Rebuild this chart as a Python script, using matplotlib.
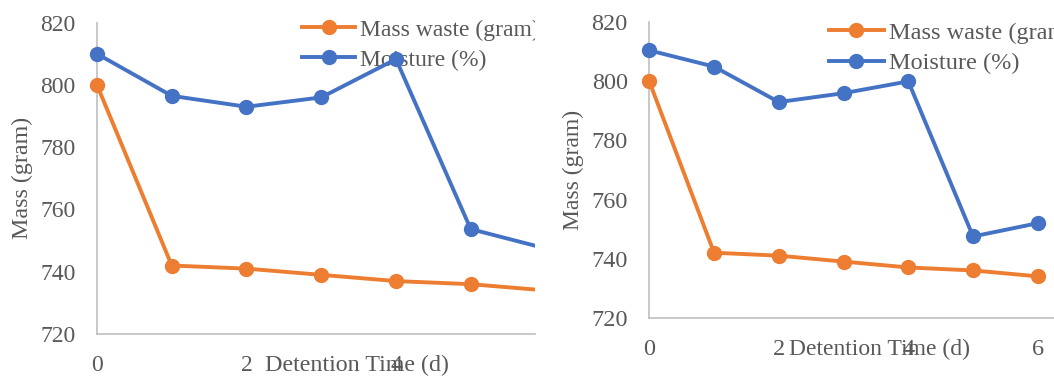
import matplotlib
matplotlib.use("Agg")
import matplotlib.pyplot as plt
from matplotlib.transforms import Bbox, TransformedBbox

plt.rcParams['font.family'] = ['Liberation Serif', 'DejaVu Serif']

days = [0, 1, 2, 3, 4, 5, 6]
mass_left = [800, 742, 741, 739, 737, 736, 734]
moist_left = [810, 796.5, 793, 796, 808.3, 753.7, 747.5]
mass_right = [800, 742, 741, 739, 737, 736, 734]
moist_right = [810.5, 805, 793, 796, 800, 747.5, 752]
yticks = [720, 740, 760, 780, 800, 820]

ORANGE = '#ED7D31'
BLUE = '#4472C4'
GREY = '#595959'
W, H = 1054, 380

fig = plt.figure(figsize=(W / 100, H / 100), dpi=100)


def panel(rect_px, xmax, xticks, mass, moist, ylab_x, xlab_pos, leg_px, fs, lab_fs, leg_fs, clip_x):
    l, t, r, b = rect_px
    ax = fig.add_axes([l / W, 1 - b / H, (r - l) / W, (b - t) / H])
    clip = TransformedBbox(Bbox([[0, 0], [clip_x / W, 1]]), fig.transFigure)
    for y, c, lab in [(mass, ORANGE, 'Mass waste (gram)'), (moist, BLUE, 'Moisture (%)')]:
        ln, = ax.plot(days, y, color=c, lw=2.8, marker='o', ms=10, label=lab, zorder=3)
        ln.set_clip_box(clip)
    ax.set_xlim(0, xmax)
    ax.set_ylim(720, 820)
    ax.set_xticks(xticks)
    ax.set_yticks(yticks)
    ax.tick_params(length=0, labelsize=fs, colors=GREY)
    ax.tick_params(axis='y', pad=15.5)
    ax.tick_params(axis='x', pad=15)
    for s in ['top', 'right']:
        ax.spines[s].set_visible(False)
    for s in ['left', 'bottom']:
        ax.spines[s].set_color('#BFBFBF')
        ax.spines[s].set_linewidth(1.2)
    ax.set_ylabel('Mass (gram)', fontsize=lab_fs, color=GREY, va='center')
    ax.yaxis.set_label_coords(ylab_x, 0.5)
    ax.set_xlabel('Detention Time (d)', fontsize=lab_fs, color=GREY, va='center')
    ax.xaxis.set_label_coords(*xlab_pos)
    leg = ax.legend(loc='upper left', bbox_to_anchor=(leg_px[0] / W, 1 - leg_px[1] / H),
                    bbox_transform=fig.transFigure, frameon=False, fontsize=leg_fs,
                    borderpad=0, handlelength=2.25, handletextpad=0.2, labelspacing=0.36,
                    borderaxespad=0)
    leg.set_zorder(1)
    for tx in leg.get_texts():
        tx.set_color(GREY)
        tx.set_clip_box(clip)
        tx.set_clip_on(True)
    return ax


panel((97, 22.7, 535, 334), 5.86, [0, 2, 4], mass_left, moist_left,
      -0.171, (0.594, -0.0997), (302, 19), 17, 17.3, 17, 535)
panel((649.3, 22.3, 1054, 317.7), 6.25, [0, 2, 4, 6], mass_right, moist_right,
      -0.1885, (0.570, -0.109), (829, 21.5), 17.5, 17, 17.5, 1054)

fig.savefig('out.png', dpi=100)
